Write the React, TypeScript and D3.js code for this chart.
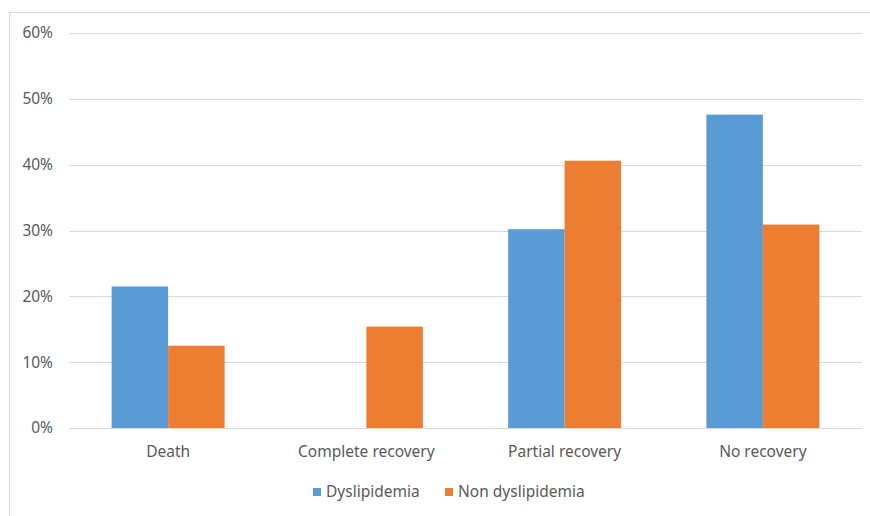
import React from "react";
import * as d3 from "d3";

const categories = ["Death", "Complete recovery", "Partial recovery", "No recovery"];
const seriesNames = ["Dyslipidemia", "Non dyslipidemia"];
const dyslipidemia = [0.215, 0, 0.302, 0.476];
const nonDyslipidemia = [0.125, 0.154, 0.406, 0.309];
const yTicks = [0, 0.1, 0.2, 0.3, 0.4, 0.5, 0.6];
const colors = ["#5B9BD5", "#ED7D31"];

const W = 870;
const H = 516;
const FONT = "'Noto Sans', 'Open Sans', sans-serif";
const FS = 15.5;

export default function App() {
  const left = 69;
  const right = 862;
  const top = 33;
  const bottom = 428;

  const x = d3.scaleBand<string>().domain(categories).range([left, right]).paddingInner(0.43).paddingOuter(0.215);
  const xs = d3.scaleBand<string>().domain(seriesNames).range([0, x.bandwidth()]);
  const y = d3.scaleLinear().domain([0, 0.6]).range([bottom, top]);
  const fmt = d3.format(".0%");
  const series = [dyslipidemia, nonDyslipidemia];

  return (
    <svg width={W} height={H} style={{ position: "absolute", left: 0, top: 0 }}>
      <rect x={0} y={0} width={W} height={H} fill="#fff" />
      <rect x={9.5} y={12.5} width={W} height={H} fill="#fff" stroke="#D9D9D9" strokeWidth={1} />
      {yTicks.map((t) => (
        <g key={t}>
          <line x1={left} x2={right} y1={Math.round(y(t)) + 0.5} y2={Math.round(y(t)) + 0.5} stroke="#D9D9D9" strokeWidth={1} />
          <text x={53} y={y(t)} dy="0.35em" textAnchor="end" fontFamily={FONT} fontSize={FS} fill="#595959">
            {fmt(t)}
          </text>
        </g>
      ))}
      {series.map((vals, si) =>
        vals.map((v, ci) =>
          v > 0 ? (
            <rect
              key={`${si}-${ci}`}
              x={(x(categories[ci]) as number) + (xs(seriesNames[si]) as number)}
              y={y(v)}
              width={xs.bandwidth()}
              height={bottom - y(v)}
              fill={colors[si]}
            />
          ) : null
        )
      )}
      {categories.map((c) => (
        <text key={c} x={(x(c) as number) + x.bandwidth() / 2} y={457} textAnchor="middle" fontFamily={FONT} fontSize={FS} fill="#595959">
          {c}
        </text>
      ))}
      <g>
        <rect x={313} y={488} width={8} height={8} fill={colors[0]} />
        <text x={326} y={497} fontFamily={FONT} fontSize={FS} fill="#595959">{seriesNames[0]}</text>
        <rect x={445} y={488} width={8} height={8} fill={colors[1]} />
        <text x={458} y={497} fontFamily={FONT} fontSize={FS} fill="#595959">{seriesNames[1]}</text>
      </g>
    </svg>
  );
}
